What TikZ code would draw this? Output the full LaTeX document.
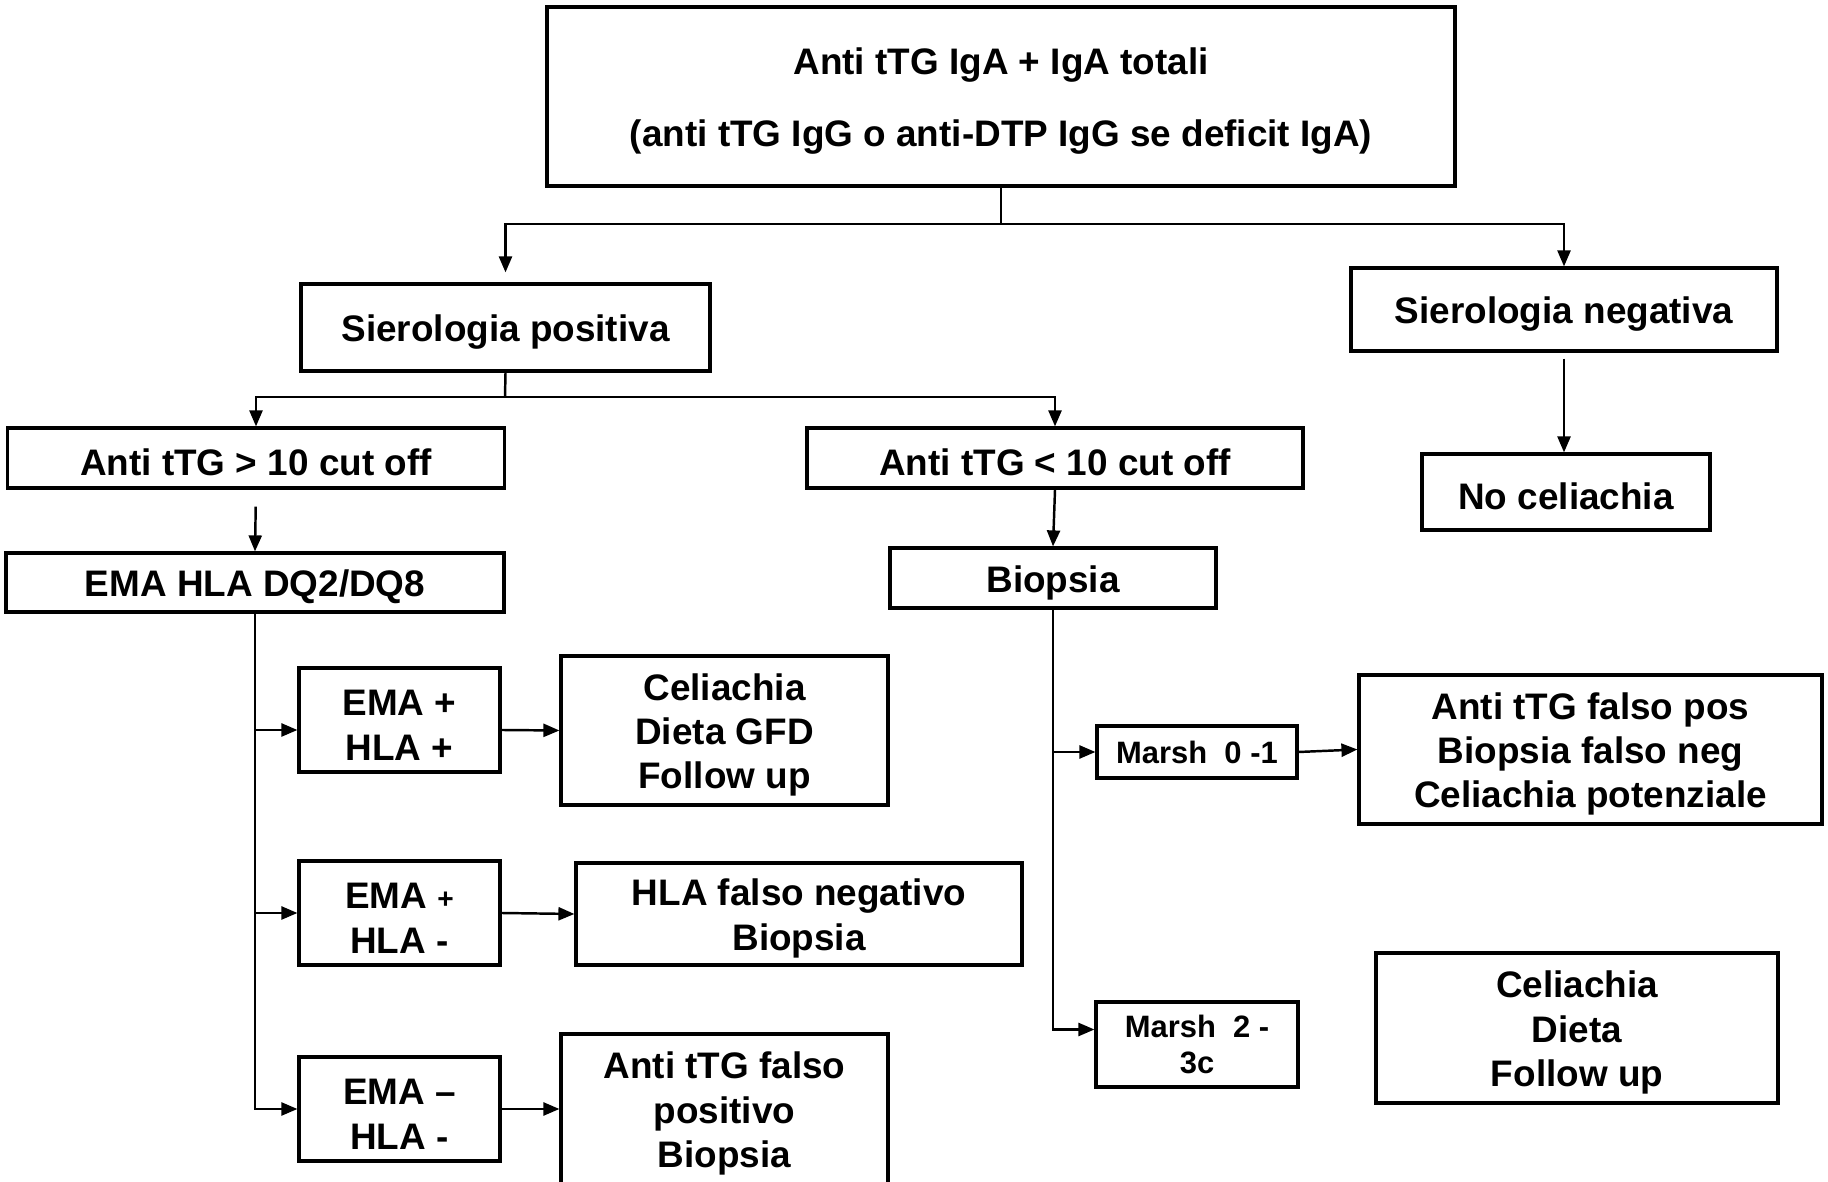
\documentclass[tikz,border=0pt]{standalone}
\usepackage{fontspec}
\setmainfont{Liberation Sans}
\usetikzlibrary{arrows.meta,positioning}
\newcommand{\lift}{\rule{0pt}{10.2pt}}
\tikzset{
  frame/.style={rectangle, draw=black, line width=0.9pt, align=center, inner sep=0pt},
  box/.style={frame, font=\fontsize{10.5}{12.6}\selectfont\bfseries,
              execute at begin node={\lift}},
  marsh/.style={frame, font=\fontsize{8.8}{10}\selectfont\bfseries},
  arr/.style={-{Triangle[length=1.6mm, width=1.3mm]}, line width=0.7pt},
  link/.style={line width=0.7pt},
}

\begin{document}
\begin{tikzpicture}[x=1cm, y=1cm]
\useasboundingbox (0,0) rectangle (18.28,11.81);
% screening
\node[box, minimum width=9.08cm, minimum height=1.79cm] (tt) at (10.01,10.845)
  {\lift Anti tTG IgA + IgA totali\\[2.7mm](anti tTG IgG o anti-DTP IgG se deficit IgA)};
\node[box, minimum width=4.09cm, minimum height=0.87cm] (sp) at (5.055,8.535) {Sierologia positiva};
\node[box, minimum width=4.26cm, minimum height=0.83cm] (sn) at (15.64,8.715) {Sierologia negativa};
\node[box, minimum width=4.97cm, minimum height=0.60cm] (hi) at (2.56,7.23) {Anti tTG > 10 cut off};
\node[box, minimum width=4.96cm, minimum height=0.60cm] (lo) at (10.55,7.23) {Anti tTG < 10 cut off};
\node[box, minimum width=2.88cm, minimum height=0.76cm] (nc) at (15.66,6.89) {No celiachia};
\node[box, minimum width=4.98cm, minimum height=0.59cm] (ema) at (2.55,5.985) {EMA HLA DQ2/DQ8};
\node[box, minimum width=3.26cm, minimum height=0.60cm] (bio) at (10.53,6.03) {Biopsia};
% EMA / HLA
\node[box, minimum width=2.01cm, minimum height=1.04cm] (pp) at (3.995,4.61) {\lift EMA +\\HLA +};
\node[box, minimum width=3.27cm, minimum height=1.49cm] (cel) at (7.245,4.505) {\lift Celiachia\\Dieta GFD\\Follow up};
\node[box, minimum width=2.01cm, minimum height=1.04cm] (pm) at (3.995,2.68) {\lift EMA {\fontsize{8}{8}\selectfont +}\\HLA -};
\node[box, minimum width=4.46cm, minimum height=1.02cm] (hfn) at (7.99,2.67) {\lift HLA falso negativo\\Biopsia};
\node[box, minimum width=2.01cm, minimum height=1.04cm] (mm) at (3.995,0.72) {\lift EMA –\\HLA -};
\node[box, minimum width=3.27cm, minimum height=1.50cm] (tfp) at (7.245,0.72) {\lift Anti tTG falso\\positivo\\Biopsia};
% Marsh
\node[marsh, minimum width=2.00cm, minimum height=0.52cm] (m01) at (11.97,4.29) {Marsh\ \ 0 -1};
\node[box, minimum width=4.63cm, minimum height=1.49cm] (pot) at (15.905,4.315) {\lift Anti tTG falso pos\\Biopsia falso neg\\Celiachia potenziale};
\node[marsh, minimum width=2.02cm, minimum height=0.85cm] (m23) at (11.97,1.365) {Marsh\ \ 2 -\\3c};
\node[box, minimum width=4.02cm, minimum height=1.50cm] (cd) at (15.77,1.53) {\lift Celiachia\\Dieta\\Follow up};
% connectors
\coordinate (j1) at (10.01,9.57);
\coordinate (j2) at (5.05,7.84);
\coordinate (b1) at ([yshift=-1mm]pp.west);
\coordinate (b3) at ([yshift=1.5mm]m23.west);
\draw[link] (tt.south) -- (j1);
\draw[arr, shorten >=1mm] (j1) -| (sp.north);
\draw[arr] (j1) -| (sn.north);
\draw[link] (sp.south) -- (j2);
\draw[arr] (j2) -| (hi.north);
\draw[arr] (j2) -| (lo.north);
\draw[arr, shorten <=0.6mm] (sn.south) -- (sn.south |- nc.north);
\draw[arr, shorten <=1.7mm] (hi.south) -- (ema.north);
\draw[arr] (lo.south) -- (bio.north);
\draw[arr] (ema.south) |- (mm.west);
\draw[arr] (ema.south |- b1) -- (b1);
\draw[arr] (ema.south |- pm.west) -- (pm.west);
\draw[arr] ([yshift=-1mm]pp.east) -- (cel.west);
\draw[arr] (pm.east) -- (hfn.west);
\draw[arr] (mm.east) -- (tfp.west);
\draw[arr] (bio.south) |- (b3);
\draw[arr] (bio.south |- m01.west) -- (m01.west);
\draw[arr] (m01.east) -- (pot.west);
\end{tikzpicture}
\end{document}
